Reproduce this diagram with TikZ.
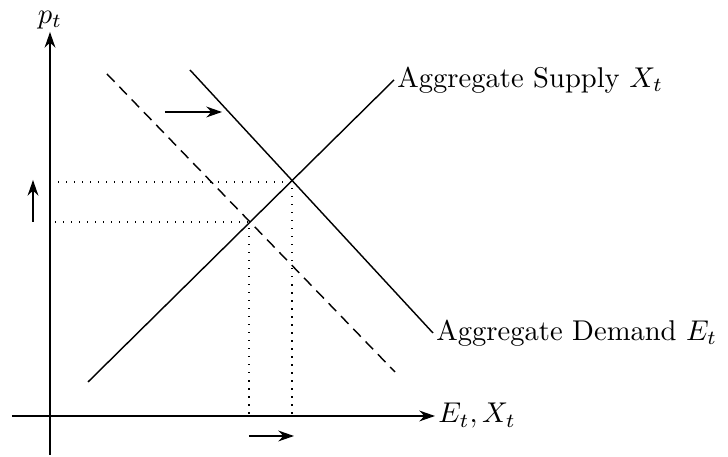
\documentclass[tikz,border=0pt]{standalone}
\usepackage{tikz}
\usetikzlibrary{arrows.meta, positioning, calc}
\usepackage{amsmath}
\tikzset{
  axis/.style={line width=0.5pt, -{Stealth[length=5.5pt, width=3.8pt]}},
  shiftarr/.style={line width=0.5pt, -{Stealth[length=5.5pt, width=3.8pt]}},
  curve/.style={line width=0.5pt},
  oldcurve/.style={line width=0.5pt, dash pattern=on 3.8pt off 2.4pt},
  guide/.style={line width=0.5pt, dash pattern=on 0.5pt off 2.3pt},
  lbl/.style={inner sep=1pt, font=\normalsize},
}

\begin{document}
\begin{tikzpicture}[x=0.0123cm, y=-0.0123cm]
  \useasboundingbox (0,0) rectangle (728,457);

  % axes
  \coordinate (ybot) at (50,455);
  \coordinate (ytop) at (50,32);
  \coordinate (xleft) at (12,416);
  \coordinate (xright) at (435,416);
  \draw[axis] (ybot) -- (ytop);
  \draw[axis] (xleft) -- (xright);
  \node[lbl, anchor=south] (pt) at (ytop) {$p_t$};
  \node[lbl, anchor=west] (ex) at (xright) {$E_t, X_t$};

  % supply and demand
  \coordinate (s0) at (88,382);
  \coordinate (s1) at (394,80);
  \coordinate (d0) at (190,70);
  \coordinate (d1) at (433,333);
  \coordinate (o0) at (107,74);
  \coordinate (o1) at (395,372);
  \draw[curve] (s0) -- (s1);
  \draw[curve] (d0) -- (d1);
  \draw[oldcurve] (o0) -- (o1);
  \node[lbl, anchor=west] (supply) at (s1) {Aggregate Supply $X_t$};
  \node[lbl, anchor=west] (demand) at (d1) {Aggregate Demand $E_t$};

  % equilibria
  \coordinate (eq1) at (292,182);
  \coordinate (eq0) at (249,222);
  \coordinate (p1) at (50,182);
  \coordinate (p0) at (55,222);
  \coordinate (q1) at (292,416);
  \coordinate (q0) at (249,416);
  \draw[guide] (p1) -- (eq1) -- (q1);
  \draw[guide] (p0) -- (eq0) -- (q0);

  % shifts
  \coordinate (up0) at (33,222);
  \coordinate (up1) at (33,180);
  \coordinate (ad0) at (165,112);
  \coordinate (ad1) at (222,112);
  \coordinate (x0) at (249,436);
  \coordinate (x1) at (294,436);
  \draw[shiftarr] (up0) -- (up1);
  \draw[shiftarr] (ad0) -- (ad1);
  \draw[shiftarr] (x0) -- (x1);
\end{tikzpicture}
\end{document}
